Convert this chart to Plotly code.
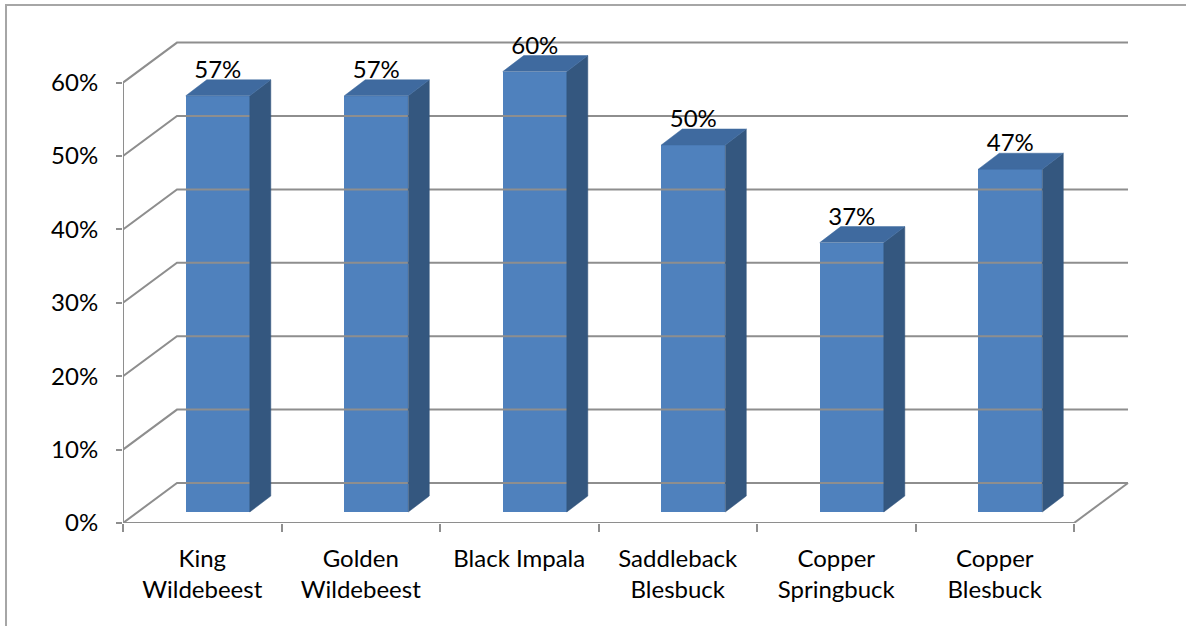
import plotly.graph_objects as go

# ---- data ----
categories = ["King<br>Wildebeest", "Golden<br>Wildebeest", "Black Impala",
              "Saddleback<br>Blesbuck", "Copper<br>Springbuck", "Copper<br>Blesbuck"]
values = [56.7, 56.7, 60.0, 50.0, 36.7, 46.7]   # percent
y_ticks = [0, 10, 20, 30, 40, 50, 60]
y_tick_labels = [f"{t}%" for t in y_ticks]

# ---- pseudo-3D geometry (axis units) ----
DXW, DYW = 0.3407, 5.45      # depth of the floor / back wall
DXF, DYF = 0.098, 1.5        # bar front face offset into the depth
BW = 0.404                   # bar width
DXB, DYB = 0.1325, 2.18      # bar depth
GRID = "#8E8E8E"
FRONT, SIDE, TOP = "#4F81BD", "#34577F", "#3F6A9F"
FONT = "Lato"

n = len(categories)
xs = list(range(n))
x_left, x_right = -0.5, n - 0.5

fig = go.Figure()

# back wall gridlines and left-wall diagonals
gx, gy = [], []
for t in y_ticks:
    gx += [x_left, x_left + DXW, x_right + DXW, None]
    gy += [t, t + DYW, t + DYW, None]
# floor right edge
gx += [x_right, x_right + DXW, None]
gy += [0, DYW, None]
# front x axis line and y axis line
gx += [x_left, x_right, None, x_left, x_left]
gy += [0, 0, None, 0, y_ticks[-1]]
fig.add_trace(go.Scatter(x=gx, y=gy, mode="lines", line=dict(color=GRID, width=2),
                         hoverinfo="skip", showlegend=False))

# bar side and top faces
sx, sy, tx, ty = [], [], [], []
for i, v in zip(xs, values):
    xl = i + DXF - BW / 2
    xr = i + DXF + BW / 2
    b = DYF
    top = v + DYF
    sx += [xr, xr + DXB, xr + DXB, xr, xr, None]
    sy += [b, b + DYB, top + DYB, top, b, None]
    tx += [xl, xl + DXB, xr + DXB, xr, xl, None]
    ty += [top, top + DYB, top + DYB, top, top, None]

# front faces
fig.add_trace(go.Bar(x=[i + DXF for i in xs], y=values, base=DYF, width=BW,
                     marker=dict(color=FRONT, line=dict(width=0)),
                     hoverinfo="skip", showlegend=False))
fig.add_trace(go.Scatter(x=sx, y=sy, mode="lines", fill="toself", fillcolor=SIDE,
                         line=dict(color=SIDE, width=0.5), hoverinfo="skip", showlegend=False))
fig.add_trace(go.Scatter(x=tx, y=ty, mode="lines", fill="toself", fillcolor=TOP,
                         line=dict(color=TOP, width=0.5), hoverinfo="skip", showlegend=False))

# data labels
fig.add_trace(go.Scatter(x=[i + DXF for i in xs], y=[v + DYF + 3.25 for v in values],
                         mode="text", text=[f"{round(v)}%" for v in values],
                         textfont=dict(family=FONT, size=24, color="black"),
                         hoverinfo="skip", showlegend=False, cliponaxis=False))

fig.update_layout(
    width=1186, height=626,
    margin=dict(l=123, r=51, t=30, b=103),
    paper_bgcolor="white", plot_bgcolor="white",
    showlegend=False,
    bargap=0,
    xaxis=dict(range=[x_left, x_left + 1012 / 158.5], tickvals=xs, ticktext=categories,
               ticks="", showgrid=False, zeroline=False, showline=False,
               tickfont=dict(family=FONT, size=24, color="black"),
               ticklabelstandoff=19,
               minor=dict(tickvals=[x_left + k for k in range(n + 1)], ticks="outside",
                          ticklen=8, tickwidth=2, tickcolor=GRID, showgrid=False)),
    yaxis=dict(range=[0, 493 / 7.34], tickvals=y_ticks, ticktext=y_tick_labels,
               ticks="outside", ticklen=6, tickwidth=2, tickcolor=GRID,
               showgrid=False, zeroline=False, showline=False,
               tickfont=dict(family=FONT, size=24, color="black"),
               ticklabelstandoff=13),
    shapes=[dict(type="path", xref="paper", yref="paper",
                 path="M -0.1156 -0.21 L -0.1156 1.0507 L 1.06 1.0507",
                 line=dict(color="#A6A6A6", width=2))],
)

fig.write_html("out.html")
